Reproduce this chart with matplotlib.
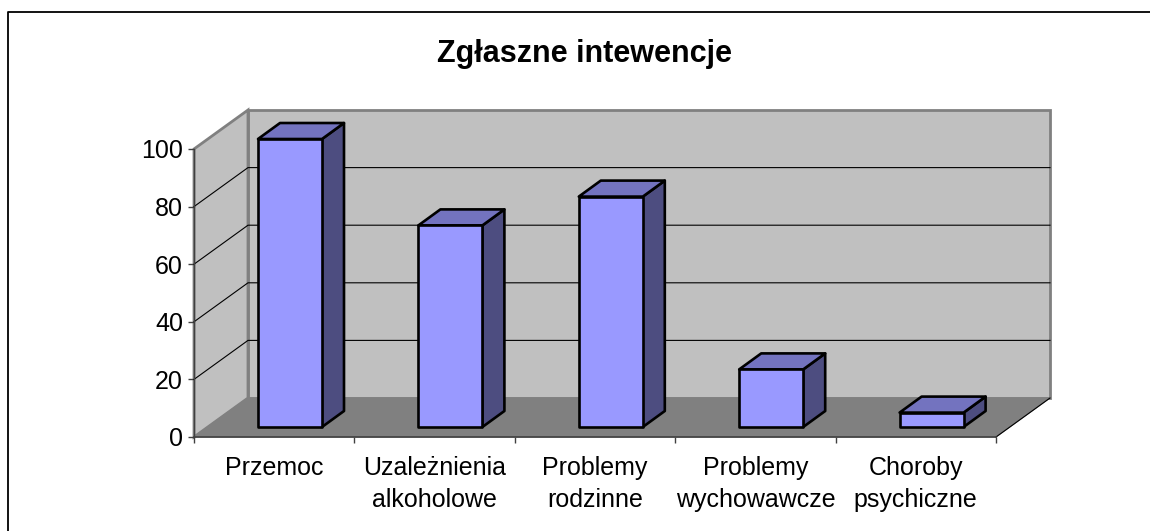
import matplotlib

matplotlib.use("Agg")
import matplotlib.pyplot as plt
from matplotlib.patches import Polygon

categories = ["Przemoc", "Uzależnienia\nalkoholowe", "Problemy\nrodzinne", "Problemy\nwychowawcze", "Choroby\npsychiczne"]
values = [100, 70, 80, 20, 5]
y_ticks = [0, 20, 40, 60, 80, 100]

W, H = 1150, 531
PX_X = 802 / 5  # pixels per category
PX_Y = 288 / 100  # pixels per value unit
X0, Y0 = 194, 437  # front corner of the floor, in pixels
WALL_DX, WALL_DY = 54 / PX_X, 39 / PX_Y
BAR_W = 64 / PX_X
BAR_DX, BAR_DY = 22 / PX_X, 16 / PX_Y
BAR_OFF_X, BAR_OFF_Y = 64 / PX_X, 10 / PX_Y

plt.rcParams["font.family"] = ["Liberation Sans", "DejaVu Sans"]
fig = plt.figure(figsize=(W / 100, H / 100), dpi=100, facecolor="white")
fig.add_artist(plt.Line2D([7.5 / W, 7.5 / W, 1], [0, 1 - 11.5 / H, 1 - 11.5 / H], color="black", lw=1.3))

# axes covers the front plane, everything behind it spills past the limits
ax = fig.add_axes([X0 / W, 1 - Y0 / H, 802 / W, 288 / H])
ax.set_xlim(-0.5, 4.5)
ax.set_ylim(0, 100)
ax.patch.set_visible(False)
for spine in ax.spines.values():
    spine.set_visible(False)

left, right, top = -0.5, 4.5, y_ticks[-1]
ax.add_patch(Polygon([(left + WALL_DX, WALL_DY), (right + WALL_DX, WALL_DY), (right + WALL_DX, top + WALL_DY), (left + WALL_DX, top + WALL_DY)],
                     facecolor="#c0c0c0", edgecolor="#808080", lw=2, clip_on=False, zorder=1))
ax.add_patch(Polygon([(left, 0), (left + WALL_DX, WALL_DY), (left + WALL_DX, top + WALL_DY), (left, top)],
                     facecolor="#c0c0c0", edgecolor="#808080", lw=2, clip_on=False, zorder=1))
ax.add_patch(Polygon([(left, 0), (right, 0), (right + WALL_DX, WALL_DY), (left + WALL_DX, WALL_DY)],
                     facecolor="#808080", edgecolor="#808080", lw=0.8, clip_on=False, zorder=2))
for tick in y_ticks[1:-1]:
    ax.plot([left, left + WALL_DX, right + WALL_DX], [tick, tick + WALL_DY, tick + WALL_DY], color="black", lw=0.8, clip_on=False, zorder=2)
ax.plot([right, right + WALL_DX], [0, WALL_DY], color="black", lw=0.8, clip_on=False, zorder=3)
ax.plot([left, right], [0, 0], color="#404040", lw=1.2, clip_on=False, zorder=3)
ax.plot([left, left], [0, top], color="#404040", lw=1.0, clip_on=False, zorder=3)

for i, val in enumerate(values):
    x0 = i - 0.5 + BAR_OFF_X
    x1 = x0 + BAR_W
    y0 = BAR_OFF_Y
    y1 = y0 + val
    style = dict(edgecolor="black", lw=1.9, joinstyle="round", clip_on=False, zorder=4)
    ax.add_patch(Polygon([(x1, y0), (x1 + BAR_DX, y0 + BAR_DY), (x1 + BAR_DX, y1 + BAR_DY), (x1, y1)], facecolor="#4d4d80", **style))
    ax.add_patch(Polygon([(x0, y1), (x1, y1), (x1 + BAR_DX, y1 + BAR_DY), (x0 + BAR_DX, y1 + BAR_DY)], facecolor="#7373bf", **style))
    ax.add_patch(Polygon([(x0, y0), (x1, y0), (x1, y1), (x0, y1)], facecolor="#9999ff", **style))

ax.set_yticks(y_ticks)
ax.set_xticks([i - 0.5 for i in range(6)], [""] * 6)
ax.tick_params(axis="y", length=4, width=1, color="#404040", labelsize=18, pad=4)
ax.tick_params(axis="x", length=4, width=1, color="#404040")
for i, name in enumerate(categories):
    ax.annotate(name, (i, 0), xytext=(0, -14), textcoords="offset points", ha="center", va="top", fontsize=18, linespacing=1.38, annotation_clip=False)

fig.text(585 / W, 1 - 54 / H, "Zgłaszne intewencje", ha="center", va="center", fontsize=22, fontweight="bold")
fig.savefig("out.png", dpi=100)
